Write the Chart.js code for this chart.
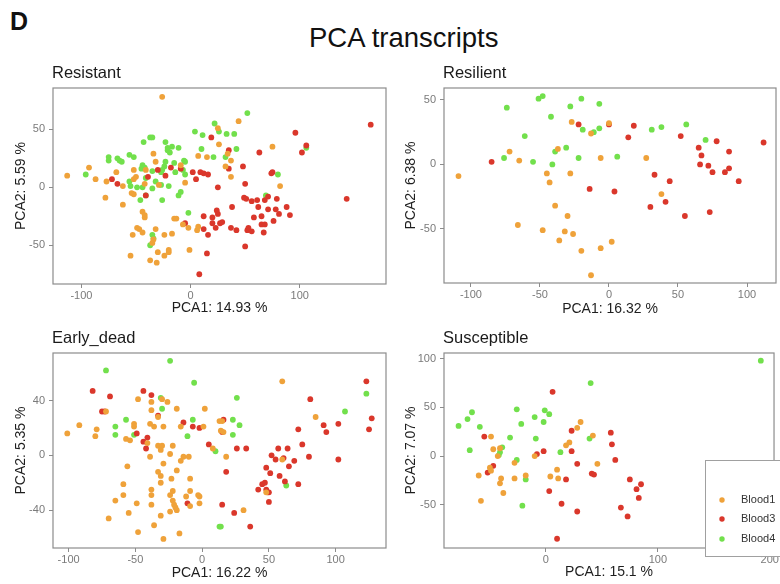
<!DOCTYPE html>
<html>
<head>
<meta charset="utf-8">
<script src="https://cdn.jsdelivr.net/npm/chart.js@4.4.1/dist/chart.umd.min.js"></script>
<style>
  body { margin: 0; background: #fff; }
  #page { position: relative; width: 780px; height: 584px; overflow: hidden; font-family: "Liberation Sans", Arial, sans-serif; }
  .lbl { position: absolute; white-space: nowrap; line-height: 1; color: #111; }
  canvas { position: absolute; }
</style>
</head>
<body>
<div id="page">
  <div class="lbl" style="left:10px; top:9px; font-size:25px; font-weight:bold;">D</div>
  <div class="lbl" style="left:309px; top:24px; font-size:27.5px;">PCA transcripts</div>
  <canvas id="resistant" width="390" height="260" style="left:0; top:60px;"></canvas>
  <canvas id="resilient" width="390" height="260" style="left:390px; top:60px;"></canvas>
  <canvas id="earlyDead" width="390" height="264" style="left:0; top:320px;"></canvas>
  <canvas id="susceptible" width="390" height="264" style="left:390px; top:320px;"></canvas>
</div>
<script>
const FONT = '"Liberation Sans", Arial, sans-serif';
const seriesNames = ['Blood1', 'Blood3', 'Blood4'];
const seriesColors = ['#EFA23A', '#DA372B', '#72E04C'];

// Resistant panel points [PCA1, PCA2]
const resistantBlood1 = [[-26,78],[44,57],[25,51],[26,37],[34,29],[37,23],[37,9],[32,18],[75,35],[82,1],[15,26],[-93,17],[-113,10],[-87,7],[-78,-9],[-77,5],[-68,13],[-62,1],[-52,15],[-52,7],[-50,9],[-41,15],[-34,29],[-32,22],[-29,2],[-42,3],[-54,-5],[-52,-6],[-62,-15],[-44,-21],[-42,-24],[-42,-26],[-49,-35],[-47,-36],[-44,-39],[-53,-41],[-55,-59],[-37,-63],[-31,-65],[-30,-56],[-24,-59],[-20,-56],[-20,-54],[-17,-40],[-24,-41],[-32,-36],[-34,-45],[-35,-48],[-15,-27],[-13,-27],[-1,-54],[-2,-35],[-7,-32],[6,-37],[7,-34],[-9,19],[7,27],[-5,4]];
const resistantBlood3 = [[165,54],[96,47],[106,36],[102,30],[63,30],[19,43],[35,32],[35,16],[48,18],[74,12],[75,13],[50,3],[25,0],[5,7],[2,13],[9,13],[12,12],[16,11],[-9,16],[-18,17],[-30,15],[-23,10],[-39,9],[-41,-7],[-72,7],[-67,3],[143,-10],[49,-9],[51,-10],[56,-12],[61,-11],[68,-11],[71,-8],[79,-10],[62,-17],[71,-19],[78,-19],[88,-17],[91,-24],[81,-23],[76,-29],[65,-25],[58,-26],[38,-17],[24,-20],[25,-23],[20,-26],[27,-31],[29,-30],[20,-31],[12,-25],[-5,-31],[12,-36],[16,-41],[23,-35],[37,-35],[42,-37],[52,-37],[53,-35],[56,-38],[65,-32],[68,-32],[67,-39],[50,-51],[15,-57],[8,-75]];
const resistantBlood4 = [[52,64],[22,55],[26,48],[33,46],[40,46],[4,48],[11,45],[10,33],[42,33],[21,26],[32,26],[106,34],[80,11],[69,-7],[-43,39],[-37,43],[-35,43],[-23,39],[-21,34],[-17,35],[-11,34],[-21,32],[-19,30],[-75,26],[-75,23],[-67,25],[-65,23],[-63,22],[-56,28],[-52,26],[-96,11],[-44,19],[-45,16],[-42,17],[-35,14],[-27,13],[-26,15],[-24,18],[-23,22],[-15,21],[-6,23],[-5,22],[-5,11],[-14,13],[-7,15],[-41,8],[-32,5],[-56,5],[-55,1],[-49,0],[-44,0],[-35,-1],[-20,1],[-27,2],[-41,-7],[-46,-11],[-26,-11],[-11,-7],[-9,-4],[-2,-22],[-35,-41],[-34,-44],[-37,-50]];

// Resilient panel
const resilientBlood1 = [[0,32],[-27,33],[-13,24],[-37,12],[-72,10],[-65,3],[-6,5],[27,5],[-109,-9],[-45,-7],[-28,-7],[-43,-14],[-39,-32],[-30,-40],[-66,-47],[-48,-51],[-32,-52],[-26,-54],[-36,-59],[2,-60],[-20,-67],[-6,-65],[-13,-86],[38,-23]];
const resilientBlood3 = [[-85,2],[-22,31],[0,31],[18,30],[14,21],[52,22],[65,13],[78,18],[67,7],[66,0],[72,-1],[75,-6],[87,10],[84,-6],[87,-3],[112,17],[94,-13],[44,-13],[33,-8],[-14,-19],[4,-21],[30,-33],[41,-29],[55,-40],[73,-37]];
const resilientBlood4 = [[-74,44],[-51,51],[-48,53],[-20,51],[-7,47],[-28,45],[-42,37],[-61,22],[-19,27],[-11,25],[-7,28],[-39,10],[-31,13],[-76,5],[-55,2],[-41,0],[-22,5],[6,6],[31,27],[38,29],[56,31],[70,19]];

// Early_dead panel
const earlyDeadBlood1 = [[60,54],[85,28],[-48,41],[-38,39],[-30,41],[-26,39],[-19,34],[2,34],[-101,16],[-92,22],[-79,19],[-80,14],[-72,32],[-51,23],[-51,21],[-57,12],[-54,11],[-38,33],[-39,23],[-36,21],[-33,28],[-29,21],[-16,21],[13,25],[15,25],[14,18],[16,17],[1,21],[-41,9],[-33,7],[-30,7],[-22,7],[-31,4],[-39,-1],[-24,1],[-14,-1],[-10,-1],[-16,-4],[8,5],[18,-1],[-29,-6],[-56,-8],[-33,-12],[-31,-15],[-31,-20],[-23,-17],[-19,-11],[-9,-17],[-59,-21],[-59,-29],[-65,-33],[-55,-42],[-49,-35],[-38,-25],[-38,-29],[-38,-36],[-36,-51],[-48,-56],[-29,-61],[-31,-44],[-22,-26],[-24,-29],[-22,-33],[-21,-36],[-20,-38],[-24,-41],[-19,-40],[-17,-57],[-9,-26],[-3,-29],[-2,-30],[-9,-37],[-2,-35],[-12,-30],[31,-40],[-70,-46],[48,-27],[60,-3]];
const earlyDeadBlood3 = [[-82,47],[-69,43],[-44,47],[-38,44],[-75,32],[-73,32],[-33,29],[-49,16],[-41,13],[-44,10],[-42,5],[-14,24],[-7,21],[-2,20],[16,26],[15,17],[5,8],[26,5],[33,5],[18,-12],[-11,-35],[15,-36],[24,-42],[36,-52],[42,-25],[45,-21],[47,-20],[48,-25],[49,-27],[50,-27],[50,-34],[48,-9],[51,-13],[52,0],[57,5],[55,-3],[61,-2],[58,-15],[64,5],[65,-8],[62,-19],[69,-4],[72,-21],[72,19],[75,8],[80,-1],[81,41],[91,22],[93,17],[102,23],[102,-3],[123,54],[125,19],[127,27]];
const earlyDeadBlood4 = [[-72,62],[-24,69],[-6,53],[-31,42],[-30,34],[26,42],[-57,26],[-65,21],[-65,15],[-51,15],[-7,26],[-11,14],[23,26],[28,22],[23,15],[10,3],[123,45],[107,32],[63,-22],[13,-52],[14,-52]];

// Susceptible panel
const susceptibleBlood1 = [[-49,20],[-47,7],[-43,0],[-41,8],[-50,-12],[-49,-15],[-60,-20],[-58,-46],[-40,-23],[-41,-28],[-38,-38],[-28,-7],[-28,-23],[-18,-20],[-10,0],[4,-21],[11,-23],[10,-14],[18,11],[21,14],[28,29],[31,35],[42,21],[46,-8]];
const susceptibleBlood3 = [[-55,20],[-52,-17],[-47,-10],[-8,2],[-2,5],[6,66],[3,-36],[14,-49],[18,-24],[23,26],[23,5],[28,-8],[28,-57],[10,-85],[41,-18],[43,-19],[58,24],[59,12],[62,-4],[75,-24],[81,-34],[85,-29],[83,-43],[67,-53],[73,-62]];
const susceptibleBlood4 = [[192,98],[40,75],[-78,31],[-70,38],[-66,45],[-59,30],[-68,6],[-26,48],[-22,33],[-32,19],[-39,9],[-42,1],[-41,4],[-26,-4],[-10,40],[-1,47],[3,43],[-2,35],[-9,18],[13,4],[39,18],[-18,-24],[-21,-51]];

// Tick labels per panel
const resistantXTicks = [-100, 0, 100];
const resistantYTicks = [-50, 0, 50];
const resilientXTicks = [-100, -50, 0, 50, 100];
const resilientYTicks = [-50, 0, 50];
const earlyDeadXTicks = [-100, -50, 0, 50, 100];
const earlyDeadYTicks = [-40, 0, 40];
const susceptibleXTicks = [0, 100, 200];
const susceptibleYTicks = [-50, 0, 50, 100];

const panelDecor = {
  id: 'panelDecor',
  afterDraw(chart, args, opts) {
    const { ctx, chartArea: a } = chart;
    ctx.save();
    ctx.strokeStyle = '#8c8c8c';
    ctx.lineWidth = 1.2;
    ctx.strokeRect(a.left, a.top, a.right - a.left, a.bottom - a.top);
    ctx.fillStyle = '#1a1a1a';
    ctx.font = '16.5px ' + FONT;
    ctx.textBaseline = 'alphabetic';
    ctx.textAlign = 'left';
    ctx.fillText(opts.title, a.left - 1, a.top - 10);
    if (opts.legend) {
      const L = opts.legend;
      ctx.fillStyle = '#fff';
      ctx.fillRect(L.x, L.y, L.w, L.h);
      ctx.strokeStyle = '#a0a0a0';
      ctx.lineWidth = 1;
      ctx.strokeRect(L.x + 0.5, L.y + 0.5, L.w, L.h);
      ctx.font = '11px ' + FONT;
      ctx.textBaseline = 'middle';
      chart.data.datasets.forEach((ds, i) => {
        const y = L.y + L.rows[i];
        ctx.fillStyle = ds.backgroundColor;
        ctx.beginPath();
        ctx.arc(L.x + 17, y, 2.7, 0, Math.PI * 2);
        ctx.fill();
        ctx.fillStyle = '#333';
        ctx.fillText(ds.label, L.x + 36, y);
      });
    }
    ctx.restore();
  }
};

function makePanel(id, title, xTitle, yTitle, sets, xMin, xMax, yMin, yMax, xTicks, yTicks, box, legend) {
  const tickFont = { family: FONT, size: 11 };
  const titleFont = { family: FONT, size: 14 };
  return new Chart(document.getElementById(id), {
    type: 'scatter',
    data: {
      datasets: sets.map((d, i) => ({
        label: seriesNames[i],
        data: d,
        backgroundColor: seriesColors[i],
        borderWidth: 0,
        pointRadius: 2.9,
      })),
    },
    options: {
      responsive: false,
      animation: false,
      layout: { padding: { top: box.top, right: box.right, left: 0, bottom: 0 } },
      plugins: {
        legend: { display: false },
        tooltip: { enabled: false },
        panelDecor: { title: title, legend: legend },
      },
      scales: {
        x: {
          type: 'linear',
          min: xMin,
          max: xMax,
          afterFit: (s) => { s.height = box.bottom; },
          afterBuildTicks: (s) => { s.ticks = xTicks.map((v) => ({ value: v })); },
          ticks: { color: '#7a7a7a', font: tickFont, padding: 1, maxRotation: 0, autoSkip: false },
          grid: { drawOnChartArea: false, tickLength: 4, color: '#8c8c8c' },
          border: { display: false },
          title: { display: true, text: xTitle, color: '#1e1e1e', font: titleFont, padding: { top: 0, bottom: box.xtp } },
        },
        y: {
          type: 'linear',
          min: yMin,
          max: yMax,
          afterFit: (s) => { s.width = box.left; },
          afterBuildTicks: (s) => { s.ticks = yTicks.map((v) => ({ value: v })); },
          ticks: { color: '#7a7a7a', font: tickFont, padding: 4, autoSkip: false },
          grid: { drawOnChartArea: false, tickLength: 4, color: '#8c8c8c' },
          border: { display: false },
          title: { display: true, text: yTitle, color: '#1e1e1e', font: titleFont, padding: { top: 13, bottom: 0 } },
        },
      },
    },
    plugins: [panelDecor],
  });
}

makePanel('resistant', 'Resistant', 'PCA1: 14.93 %', 'PCA2: 5.59 %',
  [resistantBlood1, resistantBlood3, resistantBlood4],
  -126, 179, -83.4, 85.6, resistantXTicks, resistantYTicks,
  { left: 53, top: 28, right: 4, bottom: 36, xtp: 3 });

makePanel('resilient', 'Resilient', 'PCA1: 16.32 %', 'PCA2: 6.38 %',
  [resilientBlood1, resilientBlood3, resilientBlood4],
  -119.5, 121, -92, 59.3, resilientXTicks, resilientYTicks,
  { left: 54, top: 28, right: 3, bottom: 37, xtp: 2 });

makePanel('earlyDead', 'Early_dead', 'PCA1: 16.22 %', 'PCA2: 5.35 %',
  [earlyDeadBlood1, earlyDeadBlood3, earlyDeadBlood4],
  -111.7, 137.7, -67.6, 74.7, earlyDeadXTicks, earlyDeadYTicks,
  { left: 53, top: 33, right: 4, bottom: 36, xtp: 2 });

makePanel('susceptible', 'Susceptible', 'PCA1: 15.1 %', 'PCA2: 7.07 %',
  [susceptibleBlood1, susceptibleBlood3, susceptibleBlood4],
  -91, 203.8, -94.5, 105.9, susceptibleXTicks, susceptibleYTicks,
  { left: 54, top: 33, right: 3, bottom: 36, xtp: 3 },
  { x: 315, y: 140, w: 80, h: 96, rows: [40, 59, 79] });
</script>
</body>
</html>
